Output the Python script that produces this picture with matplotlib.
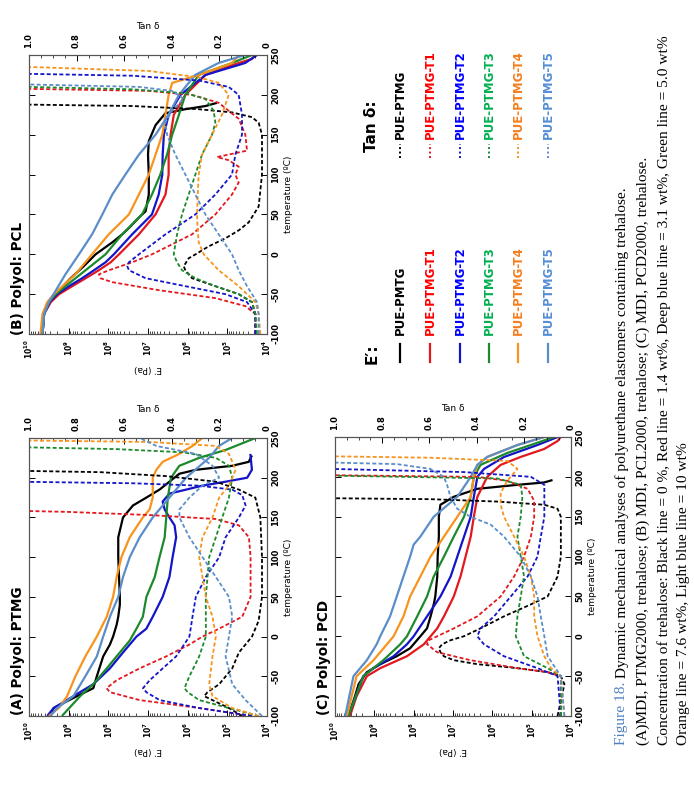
import numpy as np
import matplotlib.pyplot as plt
from matplotlib.lines import Line2D
from matplotlib.ticker import LogLocator, MultipleLocator, NullFormatter

plt.rcParams['font.family'] = 'DejaVu Sans'
plt.rcParams['font.weight'] = 'bold'

# series order: PUE-PTMG, -T1, -T2, -T3, -T4, -T5
names = ['PUE-PTMG', 'PUE-PTMG-T1', 'PUE-PTMG-T2', 'PUE-PTMG-T3', 'PUE-PTMG-T4', 'PUE-PTMG-T5']
line_colors = ['#000000', '#e3181e', '#1414c8', '#1c8a2c', '#f7941d', '#5b8ec9']
text_colors = ['#000000', '#ff0000', '#0000ff', '#00b050', '#f47f20', '#558ed5']

# ---------------- (A) Polyol: PTMG ----------------
# E' as log10(Pa) vs temperature (C); no red E' curve visible in this panel
A_E0_T = [-100, -90, -75, -65, -50, -25, -10, 0, 15, 25, 40, 50, 100, 125, 150, 165, 175, 185, 195, 205, 210, 215, 220, 228]
A_E0 = [9.46, 9.38, 8.79, 8.38, 8.29, 8.13, 7.96, 7.88, 7.79, 7.75, 7.71, 7.71, 7.75, 7.75, 7.63, 7.38, 7.04, 6.71, 6.46, 6.21, 5.79, 4.88, 4.46, 4.38]
A_E2_T = [-100, -90, -75, -60, -40, -20, -10, 0, 10, 25, 50, 75, 100, 125, 140, 150, 160, 170, 180, 185, 190, 195, 200, 210, 230]
A_E2 = [9.54, 9.38, 8.88, 8.38, 7.96, 7.63, 7.46, 7.29, 7.04, 6.88, 6.63, 6.46, 6.38, 6.29, 6.33, 6.46, 6.58, 6.63, 6.46, 6.04, 5.63, 5.04, 4.50, 4.38, 4.42]
A_E3_T = [-100, -75, -60, -40, -20, -5, 10, 25, 50, 75, 100, 125, 150, 175, 200, 215, 225, 235, 245, 250]
A_E3 = [9.17, 8.71, 8.38, 8.04, 7.71, 7.46, 7.29, 7.13, 7.04, 6.83, 6.71, 6.58, 6.54, 6.50, 6.42, 6.21, 5.71, 5.04, 4.54, 4.29]
A_E4_T = [-100, -90, -75, -50, -25, 0, 25, 50, 75, 100, 125, 150, 160, 175, 190, 200, 210, 220, 230, 240, 250]
A_E4 = [9.5, 9.25, 9.04, 8.83, 8.58, 8.29, 8.04, 7.88, 7.79, 7.67, 7.46, 7.13, 6.96, 6.88, 6.88, 6.88, 6.79, 6.63, 6.21, 5.88, 5.63]
A_E5_T = [-100, -90, -75, -50, -25, 0, 25, 50, 75, 100, 125, 150, 175, 200, 225, 240, 250]
A_E5 = [9.46, 9.29, 8.88, 8.58, 8.29, 8.13, 7.96, 7.75, 7.63, 7.46, 7.21, 6.88, 6.46, 6.04, 5.46, 5.21, 4.88]
# tan delta
A_D0_T = [-100, -90, -80, -75, -70, -60, -40, -20, 0, 20, 50, 100, 150, 175, 185, 195, 202, 207, 210]
A_D0 = [0.104, 0.16, 0.229, 0.264, 0.25, 0.201, 0.146, 0.118, 0.063, 0.035, 0.021, 0.021, 0.028, 0.049, 0.118, 0.215, 0.424, 0.701, 1.3]
A_D1_T = [-100, -90, -80, -70, -65, -55, -40, -25, -10, 0, 10, 25, 50, 100, 125, 140, 148, 153, 157, 160]
A_D1 = [0.063, 0.285, 0.535, 0.66, 0.674, 0.632, 0.535, 0.424, 0.326, 0.271, 0.201, 0.104, 0.069, 0.069, 0.076, 0.118, 0.215, 0.493, 0.84, 1.3]
A_D2_T = [-100, -90, -80, -70, -65, -55, -40, -25, 0, 25, 50, 75, 100, 125, 150, 165, 178, 185, 190, 193, 196]
A_D2 = [0.063, 0.285, 0.451, 0.507, 0.521, 0.493, 0.438, 0.382, 0.326, 0.313, 0.299, 0.257, 0.201, 0.174, 0.118, 0.090, 0.104, 0.146, 0.285, 0.563, 1.3]
A_D3_T = [-100, -90, -80, -70, -65, -50, -25, 0, 25, 50, 100, 125, 150, 175, 200, 215, 225, 232, 236, 240]
A_D3 = [0.035, 0.16, 0.285, 0.333, 0.347, 0.326, 0.285, 0.257, 0.257, 0.257, 0.243, 0.215, 0.188, 0.16, 0.146, 0.16, 0.215, 0.354, 0.632, 1.3]
A_D4_T = [-100, -90, -75, -60, -25, 0, 25, 50, 75, 100, 125, 150, 175, 190, 210, 230, 240, 245, 248]
A_D4 = [0.035, 0.146, 0.229, 0.243, 0.229, 0.215, 0.229, 0.257, 0.271, 0.285, 0.271, 0.229, 0.201, 0.16, 0.132, 0.16, 0.215, 0.493, 1.3]
A_D5_T = [-100, -80, -60, -25, 0, 25, 50, 75, 100, 125, 150, 160, 175, 190, 200, 215, 230, 240, 250]
A_D5 = [0.021, 0.09, 0.146, 0.174, 0.16, 0.146, 0.16, 0.215, 0.271, 0.326, 0.368, 0.368, 0.326, 0.271, 0.201, 0.229, 0.299, 0.465, 0.535]

# ---------------- (B) Polyol: PCL ----------------
B_E0_T = [-100, -75, -60, -45, -30, -15, 0, 15, 25, 33, 46, 54, 75, 100, 125, 142, 162, 177, 182, 186, 190]
B_E0 = [9.66, 9.62, 9.50, 9.24, 8.95, 8.62, 8.32, 7.90, 7.65, 7.48, 7.23, 7.06, 6.98, 6.98, 7.00, 6.98, 6.81, 6.56, 6.06, 5.55, 5.26]
B_E1_T = [-100, -75, -60, -50, -40, -30, -20, -10, 0, 25, 50, 75, 100, 125, 150, 175, 200, 225, 240, 245, 250]
B_E1 = [9.66, 9.62, 9.45, 9.24, 8.91, 8.57, 8.24, 7.94, 7.73, 7.23, 6.81, 6.56, 6.48, 6.48, 6.43, 6.35, 6.06, 5.55, 4.71, 4.38, 4.30]
B_E2_T = [-100, -75, -60, -50, -40, -30, -20, -10, 0, 25, 50, 75, 100, 125, 150, 175, 200, 225, 240, 250]
B_E2 = [9.66, 9.62, 9.48, 9.29, 8.99, 8.66, 8.36, 8.07, 7.86, 7.40, 6.90, 6.73, 6.64, 6.63, 6.60, 6.48, 6.18, 5.55, 4.55, 4.25]
B_E3_T = [-100, -75, -60, -50, -25, 0, 25, 50, 75, 100, 125, 150, 175, 200, 225, 240, 250]
B_E3 = [9.66, 9.62, 9.50, 9.33, 8.70, 8.07, 7.65, 7.15, 6.90, 6.69, 6.52, 6.39, 6.22, 6.06, 5.72, 4.88, 4.38]
B_E4_T = [-100, -75, -60, -50, -25, 0, 25, 50, 75, 100, 125, 150, 175, 200, 215, 225, 240, 250]
B_E4 = [9.71, 9.66, 9.54, 9.37, 8.83, 8.41, 7.99, 7.48, 7.23, 6.98, 6.81, 6.64, 6.56, 6.48, 6.39, 5.72, 4.88, 4.71]
B_E5_T = [-100, -75, -60, -25, 0, 25, 50, 75, 100, 125, 150, 175, 200, 225, 240, 250]
B_E5 = [9.66, 9.62, 9.50, 9.08, 8.74, 8.41, 8.15, 7.90, 7.57, 7.23, 6.81, 6.48, 6.22, 5.81, 5.22, 4.55]
B_D0_T = [-100, -75, -60, -50, -40, -30, -20, -15, -5, 0, 10, 20, 30, 40, 60, 100, 150, 165, 172, 178, 182, 186, 189]
B_D0 = [0.049, 0.049, 0.063, 0.119, 0.217, 0.315, 0.343, 0.35, 0.329, 0.30, 0.245, 0.175, 0.119, 0.077, 0.035, 0.021, 0.021, 0.035, 0.063, 0.147, 0.287, 0.566, 1.3]
B_D1_T = [-100, -75, -65, -55, -45, -35, -30, -25, -20, -10, 0, 25, 50, 75, 90, 100, 110, 118, 122, 126, 130, 150, 170, 190, 200, 205, 209]
B_D1 = [0.049, 0.049, 0.091, 0.217, 0.455, 0.65, 0.70, 0.706, 0.664, 0.566, 0.483, 0.315, 0.217, 0.147, 0.119, 0.133, 0.119, 0.161, 0.21, 0.147, 0.084, 0.091, 0.119, 0.203, 0.315, 0.497, 1.3]
B_D2_T = [-100, -75, -60, -50, -40, -30, -20, -15, -10, 0, 25, 50, 75, 100, 125, 150, 175, 200, 210, 218, 224, 228]
B_D2 = [0.049, 0.049, 0.084, 0.175, 0.343, 0.51, 0.58, 0.587, 0.58, 0.538, 0.427, 0.301, 0.217, 0.147, 0.133, 0.105, 0.105, 0.119, 0.161, 0.287, 0.566, 1.3]
B_D3_T = [-100, -75, -60, -50, -40, -30, -20, -10, 0, 25, 50, 75, 100, 125, 150, 165, 180, 195, 202, 207, 212]
B_D3 = [0.042, 0.049, 0.063, 0.119, 0.217, 0.301, 0.357, 0.378, 0.392, 0.378, 0.357, 0.329, 0.301, 0.273, 0.231, 0.217, 0.224, 0.259, 0.343, 0.566, 1.3]
B_D4_T = [-100, -75, -60, -40, -20, 0, 15, 30, 50, 75, 100, 125, 150, 175, 200, 215, 222, 230, 238]
B_D4 = [0.028, 0.035, 0.049, 0.119, 0.203, 0.266, 0.287, 0.291, 0.294, 0.291, 0.287, 0.273, 0.231, 0.189, 0.161, 0.203, 0.287, 0.497, 1.3]
B_D5_T = [-100, -75, -60, -40, -20, 0, 25, 50, 75, 100, 125, 150, 165, 180, 195, 205, 210, 215]
B_D5 = [0.035, 0.035, 0.042, 0.084, 0.119, 0.147, 0.203, 0.259, 0.301, 0.343, 0.385, 0.420, 0.427, 0.399, 0.350, 0.399, 0.538, 1.3]

# ---------------- (C) Polyol: PCD ----------------
C_E0_T = [-100, -75, -60, -45, -35, -25, -15, 0, 10, 25, 40, 50, 75, 100, 125, 150, 165, 175, 185, 190, 193, 196]
C_E0 = [9.66, 9.49, 9.40, 9.19, 8.85, 8.43, 8.09, 7.83, 7.66, 7.57, 7.49, 7.45, 7.40, 7.39, 7.36, 7.36, 7.32, 6.98, 6.38, 5.36, 4.68, 4.47]
C_E1_T = [-100, -75, -50, -40, -25, -10, 0, 10, 25, 50, 75, 100, 125, 150, 175, 200, 215, 225, 235, 245, 250]
C_E1 = [9.62, 9.45, 9.19, 8.85, 8.17, 7.74, 7.57, 7.40, 7.23, 6.98, 6.81, 6.68, 6.55, 6.47, 6.38, 6.13, 5.79, 5.28, 4.68, 4.34, 4.26]
C_E2_T = [-100, -50, -40, -25, -10, 0, 25, 50, 75, 100, 125, 150, 175, 200, 210, 225, 240, 250]
C_E2 = [9.66, 9.28, 9.02, 8.51, 8.17, 8.0, 7.66, 7.32, 7.06, 6.89, 6.72, 6.55, 6.47, 6.38, 6.21, 5.70, 4.85, 4.34]
C_E3_T = [-100, -50, -30, -10, 0, 25, 50, 75, 100, 125, 150, 175, 200, 215, 230, 240, 250]
C_E3 = [9.66, 9.28, 8.77, 8.34, 8.17, 7.91, 7.66, 7.49, 7.23, 6.98, 6.72, 6.55, 6.47, 6.30, 5.62, 5.02, 4.43]
C_E4_T = [-100, -50, -30, -10, 0, 25, 50, 75, 100, 125, 150, 175, 200, 215, 225, 240, 250]
C_E4 = [9.70, 9.45, 9.02, 8.68, 8.51, 8.26, 8.09, 7.83, 7.57, 7.23, 6.89, 6.55, 6.47, 6.38, 6.13, 5.36, 4.68]
C_E5_T = [-100, -50, -30, -10, 0, 25, 50, 75, 100, 115, 125, 150, 175, 200, 215, 225, 240, 250]
C_E5 = [9.74, 9.53, 9.19, 8.94, 8.85, 8.60, 8.43, 8.26, 8.09, 8.0, 7.83, 7.49, 6.89, 6.55, 6.38, 6.13, 5.36, 4.68]
C_D0_T = [-100, -60, -50, -45, -40, -35, -30, -25, -20, -15, -10, -5, 0, 10, 25, 40, 50, 75, 100, 150, 160, 165, 169, 172, 174]
C_D0 = [0.057, 0.028, 0.043, 0.099, 0.227, 0.397, 0.496, 0.539, 0.553, 0.560, 0.546, 0.511, 0.454, 0.383, 0.284, 0.170, 0.099, 0.057, 0.043, 0.043, 0.057, 0.113, 0.312, 0.596, 1.3]
C_D1_T = [-100, -50, -45, -40, -30, -20, -10, -5, 0, 10, 25, 50, 75, 100, 125, 150, 170, 185, 195, 200, 203]
C_D1 = [0.043, 0.043, 0.099, 0.227, 0.426, 0.567, 0.610, 0.603, 0.567, 0.496, 0.397, 0.298, 0.241, 0.199, 0.170, 0.156, 0.156, 0.184, 0.270, 0.397, 1.3]
C_D2_T = [-100, -50, -40, -25, -10, 0, 10, 25, 50, 75, 100, 125, 150, 175, 190, 200, 206, 212]
C_D2 = [0.043, 0.057, 0.142, 0.284, 0.369, 0.397, 0.383, 0.326, 0.255, 0.184, 0.142, 0.128, 0.113, 0.113, 0.113, 0.170, 0.454, 1.3]
C_D3_T = [-100, -50, -40, -25, 0, 25, 50, 75, 100, 125, 150, 175, 190, 198, 203]
C_D3 = [0.043, 0.043, 0.099, 0.199, 0.234, 0.227, 0.213, 0.199, 0.213, 0.227, 0.213, 0.206, 0.213, 0.312, 1.3]
C_D4_T = [-100, -50, -40, -25, 0, 25, 50, 75, 100, 125, 150, 165, 180, 195, 210, 220, 224, 227]
C_D4 = [0.028, 0.043, 0.085, 0.113, 0.142, 0.156, 0.156, 0.170, 0.199, 0.241, 0.284, 0.298, 0.298, 0.270, 0.227, 0.270, 0.596, 1.3]
C_D5_T = [-100, -50, -25, 0, 25, 50, 75, 100, 125, 140, 150, 160, 175, 190, 200, 210, 216, 220]
C_D5 = [0.028, 0.043, 0.099, 0.113, 0.128, 0.142, 0.170, 0.213, 0.284, 0.340, 0.426, 0.482, 0.511, 0.525, 0.539, 0.596, 0.738, 1.3]

caption = [
    ('Figure 18.', ' Dynamic mechanical analyses of polyurethane elastomers containing trehalose.'),
    ('', '(A)MDI, PTMG2000, trehalose; (B) MDI, PCL2000, trehalose; (C) MDI, PCD2000, trehalose.'),
    ('', 'Concentration of trehalose: Black line = 0 %, Red line = 1.4 wt%, Deep blue line = 3.1 wt%, Green line = 5.0 wt%'),
    ('', 'Orange line = 7.6 wt%, Light blue line = 10 wt%'),
]

W, H = 694, 786
fig = plt.figure(figsize=(W / 100, H / 100), dpi=100)


def box(x0, y0, x1, y1):
    # pixel box (top-left origin) -> figure fraction rect
    return [x0 / W, 1 - y1 / H, (x1 - x0) / W, (y1 - y0) / H]


def vtext(x, y, s, **kw):
    # text rotated 90 deg, starting at (x, y) in pixels, reading upwards
    return fig.text(x / W, 1 - y / H, s, rotation=90, rotation_mode='anchor',
                    ha='left', va='center', **kw)


def panel(rect, title, title_xy, e_curves, d_curves):
    ax = fig.add_axes(box(*rect))
    ax2 = ax.twiny()
    for (t, v), c in zip(d_curves, line_colors):
        ax2.plot(v, t, color=c, lw=1.3, ls=(0, (2.2, 1.3)))
    for (t, v), c in zip(e_curves, line_colors):
        if t is None:
            continue
        ax.plot(10.0 ** np.array(v), t, color=c, lw=1.6, solid_capstyle='butt')

    ax.set_xscale('log')
    ax.set_xlim(1e10, 1e4)
    ax.set_ylim(-100, 250)
    ax2.set_xlim(1.0, 0.0)

    ax.set_xticks([10.0 ** k for k in range(4, 11)])
    ax.set_xticklabels([r'$\mathbf{10^{%d}}$' % k for k in range(4, 11)], rotation=90, fontsize=5.5)
    ax.xaxis.set_minor_locator(LogLocator(base=10, subs=np.arange(2, 10) * 1.0, numticks=20))
    ax.xaxis.set_minor_formatter(NullFormatter())
    ax.tick_params(axis='x', which='major', direction='in', length=4, width=0.7, pad=4)
    ax.tick_params(axis='x', which='minor', direction='in', length=2.5, width=0.5)
    ax.set_xlabel("E\u2032 (Pa)", rotation=180, fontsize=6.5, labelpad=3)

    ax.set_yticks(range(-100, 251, 50))
    ax.set_yticklabels([str(v) for v in range(-100, 251, 50)], fontsize=6)
    ax.tick_params(axis='y', direction='in', left=True, right=True, labelleft=False,
                   labelright=True, labelrotation=90, length=4, width=0.7, pad=3)
    for lab in ax.get_yticklabels():
        lab.set_va('center')
    ax.yaxis.set_label_position('right')
    ax.set_ylabel('temperature (\u00baC)', rotation=90, fontsize=6.5, labelpad=3)

    ax2.set_xticks([1.0, 0.8, 0.6, 0.4, 0.2, 0.0])
    ax2.set_xticklabels(['1.0', '0.8', '0.6', '0.4', '0.2', '0'], rotation=90, fontsize=6)
    ax2.xaxis.set_minor_locator(MultipleLocator(0.05))
    ax2.tick_params(axis='x', which='major', direction='in', length=4, width=0.7, pad=5)
    ax2.tick_params(axis='x', which='minor', direction='in', length=2.5, width=0.5)
    ax2.set_xlabel('Tan \u03b4', fontsize=6.5, labelpad=3)

    for a in (ax, ax2):
        for s in a.spines.values():
            s.set_color('#555555')
            s.set_linewidth(0.8)

    vtext(title_xy[0], title_xy[1], title, fontsize=9.8, fontweight='bold')


panel((29, 55, 267, 334), '(B) Polyol: PCL', (18, 335),
      [(B_E0_T, B_E0), (B_E1_T, B_E1), (B_E2_T, B_E2), (B_E3_T, B_E3), (B_E4_T, B_E4), (B_E5_T, B_E5)],
      [(B_D0_T, B_D0), (B_D1_T, B_D1), (B_D2_T, B_D2), (B_D3_T, B_D3), (B_D4_T, B_D4), (B_D5_T, B_D5)])
panel((29, 438, 267, 716), '(A) Polyol: PTMG', (18, 715),
      [(A_E0_T, A_E0), (None, None), (A_E2_T, A_E2), (A_E3_T, A_E3), (A_E4_T, A_E4), (A_E5_T, A_E5)],
      [(A_D0_T, A_D0), (A_D1_T, A_D1), (A_D2_T, A_D2), (A_D3_T, A_D3), (A_D4_T, A_D4), (A_D5_T, A_D5)])
panel((335, 437, 571, 716), '(C) Polyol: PCD', (324, 715),
      [(C_E0_T, C_E0), (C_E1_T, C_E1), (C_E2_T, C_E2), (C_E3_T, C_E3), (C_E4_T, C_E4), (C_E5_T, C_E5)],
      [(C_D0_T, C_D0), (C_D1_T, C_D1), (C_D2_T, C_D2), (C_D3_T, C_D3), (C_D4_T, C_D4), (C_D5_T, C_D5)])

# legend (drawn by hand because the whole page is rotated)
vtext(372, 364, 'E\u2032:', fontsize=11, fontweight='bold')
vtext(372, 152, 'Tan \u03b4:', fontsize=11, fontweight='bold')
leg_x = [400, 430, 460, 489, 518, 548]
e_names = ['PUE-PMTG'] + names[1:]
for x, nm, lc, tc in zip(leg_x, e_names, line_colors, text_colors):
    fig.add_artist(Line2D([x / W, x / W], [1 - 362 / H, 1 - 344 / H], color=lc, lw=1.6))
    vtext(x, 335, nm, fontsize=8.5, fontweight='bold', color=tc)
for x, nm, lc, tc in zip(leg_x, names, line_colors, text_colors):
    fig.add_artist(Line2D([x / W, x / W], [1 - 158 / H, 1 - 144 / H], color=lc, lw=1.4, ls=(0, (1, 1.3))))
    vtext(x, 139, nm, fontsize=8.5, fontweight='bold', color=tc)

# caption
renderer = fig.canvas.get_renderer()
cap_x = [622, 643, 664, 684]
for x, (head, rest) in zip(cap_x, caption):
    y = 745
    if head:
        t = vtext(x, y, head, fontsize=11.1, family='Liberation Serif', fontweight='normal', color='#4f81bd')
        y -= t.get_window_extent(renderer).height
    vtext(x, y, rest, fontsize=11.1, family='Liberation Serif', fontweight='normal', color='black')

fig.savefig('out.png', dpi=100)
